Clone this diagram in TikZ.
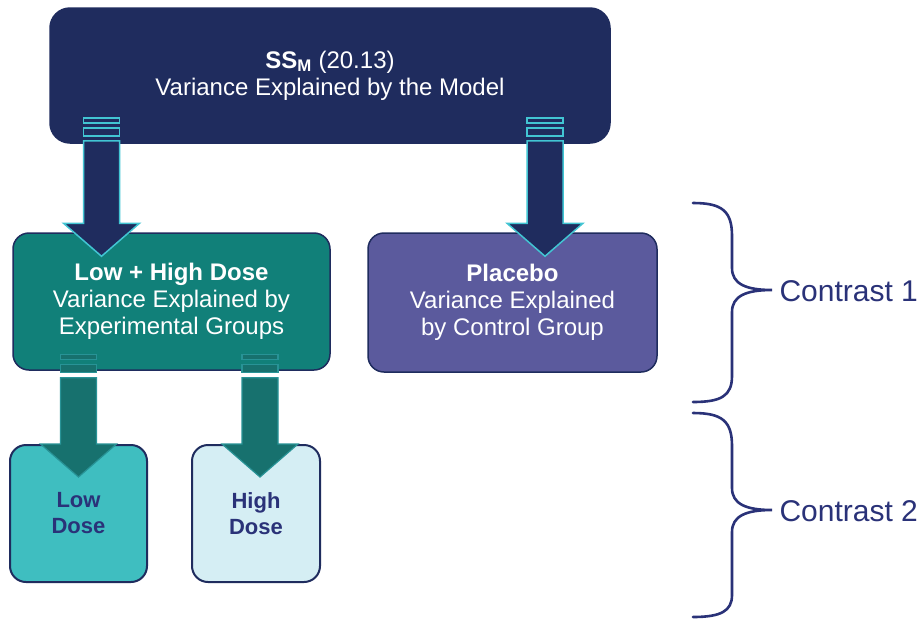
\documentclass[tikz,border=0pt]{standalone}
\usepackage{fontspec}
\setmainfont{Liberation Sans}
\usetikzlibrary{calc}
\definecolor{model}{HTML}{1F2C5E}
\definecolor{edge}{HTML}{42C5D3}
\definecolor{expgrp}{HTML}{118079}
\definecolor{ctrl}{HTML}{5B5A9D}
\definecolor{lowd}{HTML}{3FBEC0}
\definecolor{highd}{HTML}{D5EEF4}
\definecolor{tealarr}{HTML}{17716E}
\definecolor{ink}{HTML}{2A3278}
\tikzset{box/.style={rounded corners=16pt,align=center,inner sep=0pt,font=\fontsize{24}{27}\selectfont,text=white,draw=model,line width=1.5pt},dosebox/.style={box,text=ink,font=\bfseries\fontsize{22}{26}\selectfont,minimum height=137pt,line width=2pt},fatarrow/.style={fill=model,draw=edge,line width=1.5pt},tealarrow/.style={fill=tealarr,draw=tealarr!60!edge,line width=1.2pt},brace/.style={draw=ink,line width=2.6pt,line cap=round},lab/.style={text=ink,font=\fontsize{30}{32}\selectfont,anchor=west}}
\newcommand{\blockarrow}[3]{%
\draw[#1]($(#2)+(-18,0)$) rectangle ($(#2)+(18,5)$);
\draw[#1]($(#2)+(-18,10)$) rectangle ($(#2)+(18,18)$);
\draw[#1]($(#2)+(-18,23)$)--($(#3)+(-18,-33)$)--($(#3)+(-38,-33)$)--(#3)--($(#3)+(38,-33)$)--($(#3)+(18,-33)$)--($(#2)+(18,23)$)--cycle;}

\begin{document}
\begin{tikzpicture}[x=1pt,y=-1pt]
\useasboundingbox[fill=white](0,0) rectangle (923,619);
\node[box,fill=model,rounded corners=20pt,minimum width=560pt,minimum height=135pt] (ssm) at (330,75.5) {\textbf{SS\textsubscript{M}} (20.13)\\Variance Explained by the Model};
\node[box,fill=expgrp,minimum width=317pt,minimum height=137pt] (lohi) at (171.5,301.5) {\textbf{Low + High Dose}\\Variance Explained by\\Experimental Groups};
\node[box,fill=ctrl,minimum width=289pt,minimum height=139pt] (plac) at (512.5,302.5) {\textbf{Placebo}\\Variance Explained\\by Control Group};
\node[dosebox,fill=lowd,minimum width=137pt] (low) at (78.5,513.5) {Low\\Dose};
\node[dosebox,fill=highd,minimum width=128pt] (high) at (256,513.5) {High\\Dose};
\coordinate (a1s) at ([xshift=-70pt,yshift=26pt]ssm.south -| lohi.north);
\coordinate (a1e) at ([xshift=-70pt,yshift=-24pt]lohi.north);
\coordinate (a2s) at ([xshift=32.5pt,yshift=26pt]ssm.south -| plac.north);
\coordinate (a2e) at ([xshift=32.5pt,yshift=-24pt]plac.north);
\coordinate (a3s) at ([yshift=16pt]lohi.south -| low.north);
\coordinate (a3e) at ([yshift=-33pt]low.north);
\coordinate (a4s) at ([xshift=4pt,yshift=16pt]lohi.south -| high.north);
\coordinate (a4e) at ([xshift=4pt,yshift=-33pt]high.north);
\blockarrow{fatarrow}{a1s}{a1e}\blockarrow{fatarrow}{a2s}{a2e}
\blockarrow{tealarrow}{a3s}{a3e}\blockarrow{tealarrow}{a4s}{a4e}
\draw[brace](693,203) .. controls (722,203) and (732,211) .. (732,236)--(732,268) .. controls (732,284) and (746,290) .. (772,290) .. controls (746,290) and (732,296) .. (732,312)--(732,376) .. controls (732,396) and (721,402) .. (693,402);
\draw[brace](693,413) .. controls (722,413) and (732,421) .. (732,446)--(732,488) .. controls (732,504) and (746,510) .. (772,510) .. controls (746,510) and (732,516) .. (732,532)--(732,595) .. controls (732,611) and (721,617) .. (693,617);
\node[lab] (c1) at (776,291) {Contrast 1};
\node[lab] (c2) at (776,511) {Contrast 2};
\end{tikzpicture}
\end{document}
